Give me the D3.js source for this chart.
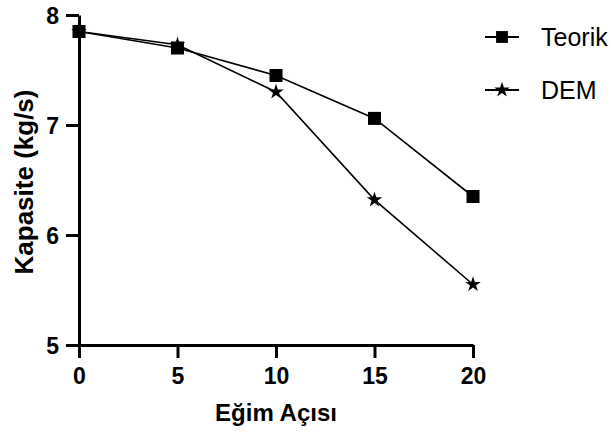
<!DOCTYPE html>
<html>
<head>
<meta charset="utf-8">
<script src="https://cdn.jsdelivr.net/npm/d3@7"></script>
<style>
  body { margin: 0; background: #fff; }
</style>
</head>
<body>
<div id="chart"></div>
<script>
// data
var angles = [0, 5, 10, 15, 20];
var teorik = [7.85, 7.70, 7.45, 7.06, 6.35];
var dem = [7.85, 7.73, 7.30, 6.32, 5.55];
var xTicks = [0, 5, 10, 15, 20];
var yTicks = [5, 6, 7, 8];

var svgWidth = 611, svgHeight = 434;
var margin = { top: 15, right: 138, bottom: 89, left: 79 };
var chartWidth = svgWidth - margin.left - margin.right;
var chartHeight = svgHeight - margin.top - margin.bottom;
var font = "'Liberation Sans', Arial, sans-serif";

var svg = d3.select("#chart").append("svg")
  .attr("width", svgWidth)
  .attr("height", svgHeight);

var chartGroup = svg.append("g")
  .attr("transform", `translate(${margin.left}, ${margin.top})`);

var x = d3.scaleLinear().domain([0, 20]).range([0, chartWidth]);
var y = d3.scaleLinear().domain([5, 8]).range([chartHeight, 0]);

// axes
var bottomAxis = d3.axisBottom(x).tickValues(xTicks).tickFormat(d3.format("d"))
  .tickSize(13).tickSizeOuter(0).tickPadding(10);
var leftAxis = d3.axisLeft(y).tickValues(yTicks).tickFormat(d3.format("d"))
  .tickSize(13).tickSizeOuter(0).tickPadding(7);

var xg = chartGroup.append("g")
  .attr("transform", `translate(0, ${chartHeight})`)
  .call(bottomAxis);
var yg = chartGroup.append("g").call(leftAxis);

[xg, yg].forEach(function(g) {
  g.select(".domain").attr("stroke", "#000").attr("stroke-width", 3);
  g.selectAll(".tick line").attr("stroke", "#000").attr("stroke-width", 3);
  g.selectAll(".tick text")
    .style("font-family", font)
    .style("font-size", "23px")
    .style("font-weight", "bold")
    .attr("fill", "#000");
});
yg.selectAll(".tick text").attr("dy", "0.36em");

// lines
var line = d3.line()
  .x(function(d, i) { return x(angles[i]); })
  .y(function(d) { return y(d); });

chartGroup.append("path")
  .datum(teorik)
  .attr("fill", "none").attr("stroke", "#000").attr("stroke-width", 1.6)
  .attr("d", line);
chartGroup.append("path")
  .datum(dem)
  .attr("fill", "none").attr("stroke", "#000").attr("stroke-width", 1.6)
  .attr("d", line);

var square = d3.symbol().type(d3.symbolSquare).size(170);
var star = d3.symbol().type(d3.symbolStar).size(75);

chartGroup.selectAll(".sq")
  .data(teorik).enter().append("path")
  .attr("d", square)
  .attr("transform", function(d, i) { return `translate(${x(angles[i])}, ${y(d)})`; })
  .attr("fill", "#000");

chartGroup.selectAll(".st")
  .data(dem).enter().append("path")
  .attr("d", star)
  .attr("transform", function(d, i) { return `translate(${x(angles[i])}, ${y(d)})`; })
  .attr("fill", "#000");

// axis titles
svg.append("text")
  .attr("transform", `translate(${margin.left + chartWidth / 2}, 421)`)
  .attr("text-anchor", "middle")
  .style("font-family", font)
  .style("font-size", "24px")
  .style("font-weight", "bold")
  .text("Eğim Açısı");

svg.append("text")
  .attr("transform", `translate(33, ${margin.top + chartHeight / 2 + 2}) rotate(-90)`)
  .attr("text-anchor", "middle")
  .style("font-family", font)
  .style("font-size", "26px")
  .style("font-weight", "bold")
  .text("Kapasite (kg/s)");

// legend
var legend = svg.append("g").attr("transform", "translate(485, 37)");
var items = [{ name: "Teorik", sym: square }, { name: "DEM", sym: star }];
items.forEach(function(item, i) {
  var g = legend.append("g").attr("transform", `translate(0, ${i * 53})`);
  g.append("line").attr("x1", 0).attr("x2", 34).attr("stroke", "#000").attr("stroke-width", 2);
  g.append("path").attr("d", i === 0 ? d3.symbol().type(d3.symbolSquare).size(140) : item.sym)
    .attr("transform", "translate(17, 0)").attr("fill", "#000");
  g.append("text").attr("x", 56).attr("dy", "0.36em")
    .style("font-family", font)
    .style("font-size", "25px")
    .text(item.name);
});
</script>
</body>
</html>
